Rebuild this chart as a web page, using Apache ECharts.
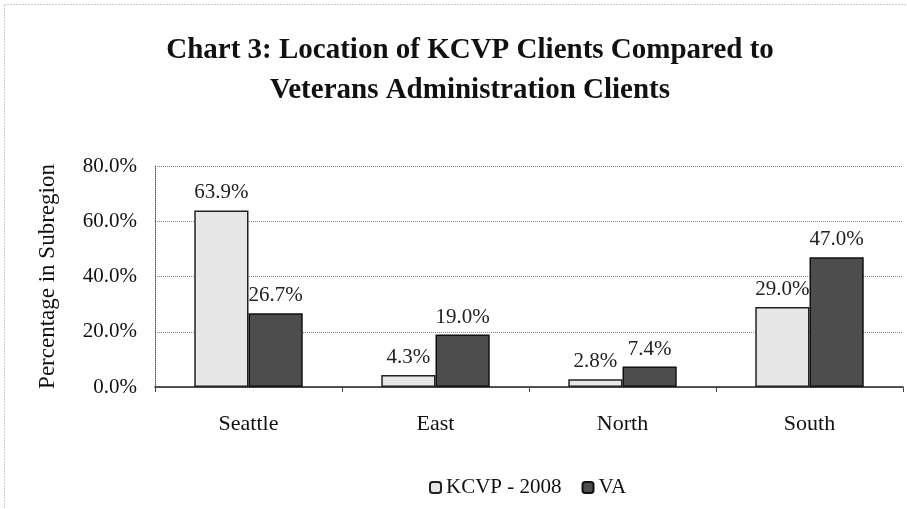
<!DOCTYPE html>
<html>
<head>
<meta charset="utf-8">
<script src="https://cdn.jsdelivr.net/npm/echarts@6/dist/echarts.min.js"></script>
<style>
  html, body { margin: 0; padding: 0; background: #fff; }
  #chart { width: 907px; height: 509px; }
</style>
</head>
<body>
<div id="chart"></div>
<script>
var regions = ['Seattle', 'East', 'North', 'South'];
var kcvp = [63.9, 4.3, 2.8, 29.0];
var va = [26.7, 19.0, 7.4, 47.0];
var yTicks = [0, 20, 40, 60, 80];

var serif = "'Liberation Serif', 'DejaVu Serif', serif";

var Chart = echarts.init(document.getElementById('chart'));

var labelOpt = {
    show: true,
    position: 'top',
    distance: 7,
    color: '#222',
    fontFamily: serif,
    fontSize: 21,
    formatter: function (p) {
        return p.value.toFixed(1) + '%';
    }
};

var option = {
    backgroundColor: '#ffffff',
    animation: false,
    graphic: [{
        // dotted outer frame of the scanned chart (only top/left visible)
        type: 'rect',
        left: 2,
        top: 2,
        shape: { width: 1000, height: 600 },
        style: { fill: 'none', stroke: '#999', lineWidth: 1, lineDash: [1, 2] },
        silent: true
    }],
    title: {
        text: 'Chart 3: Location of KCVP Clients Compared to\nVeterans Administration Clients',
        left: 465,
        textAlign: 'center',
        top: 26,
        textStyle: {
            fontFamily: serif,
            fontWeight: 'bold',
            fontSize: 29,
            lineHeight: 40,
            color: '#111'
        }
    },
    legend: {
        left: 424,
        top: 472,
        itemWidth: 11,
        itemHeight: 11,
        itemGap: 20,
        textStyle: { fontFamily: serif, fontSize: 21, color: '#111' },
        data: ['KCVP - 2008', 'VA']
    },
    grid: {
        left: 155,
        right: 4,
        top: 166,
        bottom: 122
    },
    xAxis: {
        type: 'category',
        data: regions,
        axisLine: { lineStyle: { color: '#222', width: 1.5 } },
        axisTick: { show: true, alignWithLabel: false, length: 5, lineStyle: { color: '#444' } },
        axisLabel: { fontFamily: serif, fontSize: 22, color: '#111', margin: 26 }
    },
    yAxis: {
        type: 'value',
        min: yTicks[0],
        max: yTicks[yTicks.length - 1],
        interval: 20,
        name: 'Percentage in Subregion',
        nameLocation: 'middle',
        nameGap: 96,
        nameTextStyle: { fontFamily: serif, fontSize: 23, color: '#111' },
        axisLine: { show: true, lineStyle: { color: '#555', type: 'dotted' } },
        axisTick: { show: false },
        axisLabel: {
            fontFamily: serif,
            fontSize: 21,
            color: '#111',
            margin: 18,
            formatter: function (v) { return v.toFixed(1) + '%'; }
        },
        splitLine: { show: true, lineStyle: { color: '#888', type: 'dotted' } }
    },
    series: [
        {
            name: 'KCVP - 2008',
            type: 'bar',
            data: kcvp,
            barGap: '0%',
            barCategoryGap: '42%',
            itemStyle: { color: '#e6e6e6', borderColor: '#222', borderWidth: 1.5 },
            label: labelOpt
        },
        {
            name: 'VA',
            type: 'bar',
            data: va,
            itemStyle: { color: '#4d4d4d', borderColor: '#111', borderWidth: 1.5 },
            label: labelOpt
        }
    ]
};

Chart.setOption(option);
</script>
</body>
</html>
